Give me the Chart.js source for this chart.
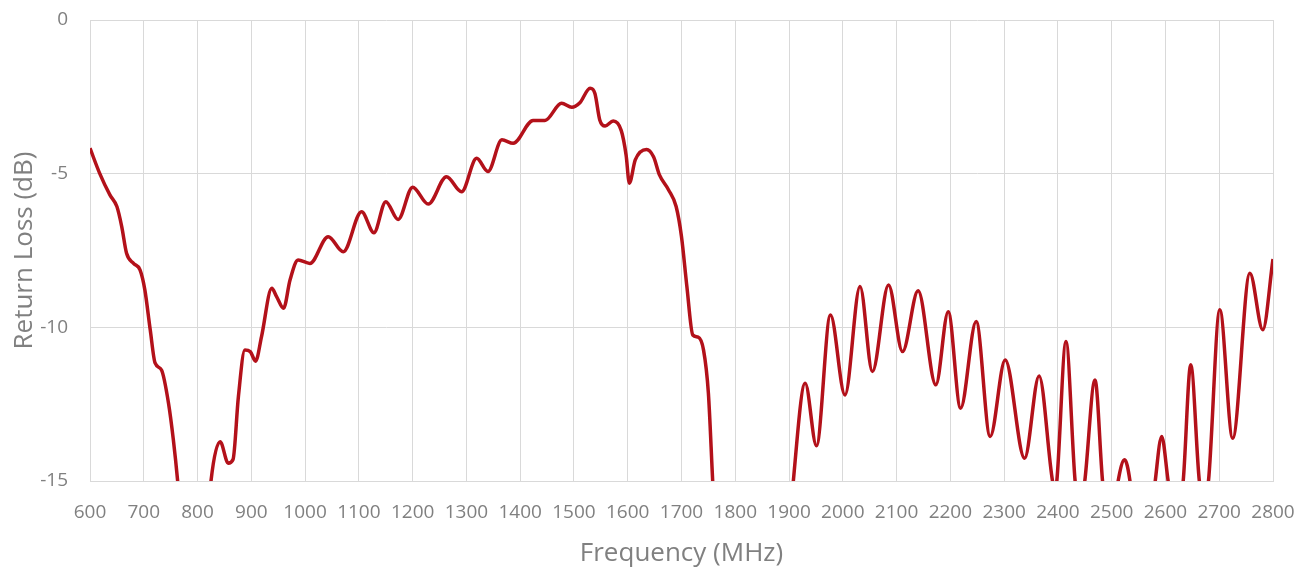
<!DOCTYPE html>
<html>
<head>
<meta charset="utf-8">
<script src="https://cdn.jsdelivr.net/npm/chart.js@4/dist/chart.umd.min.js"></script>
<style>
	html, body { margin: 0; padding: 0; background: #fff; }
	#wrap { width: 1312px; height: 576px; }
</style>
</head>
<body>
<div id="wrap"><canvas id="return-loss-chart"></canvas></div>
<script>
// frequency points (MHz)
const freqMHz = [
	600, 618, 637, 650, 659, 668, 681, 693, 702, 712, 721, 733, 746, 755, 763, 775, 795, 812,
	825, 842, 857, 866, 876, 888, 898, 908, 919, 938, 947, 960, 972, 987, 1009, 1043, 1071,
	1105, 1128, 1150, 1173, 1200, 1229, 1263, 1291, 1319, 1340, 1366, 1387, 1424, 1446, 1477,
	1496, 1511, 1530, 1539, 1548, 1558, 1573, 1588, 1597, 1603, 1614, 1635, 1648, 1659, 1676,
	1690, 1700, 1710, 1721, 1731, 1741, 1750, 1758, 1770, 1800, 1860, 1895, 1908, 1930, 1951,
	1977, 2004, 2032, 2055, 2085, 2111, 2140, 2173, 2196, 2219, 2248, 2274, 2302, 2338, 2365,
	2390, 2395, 2398, 2415, 2432, 2441, 2450, 2469, 2483, 2497, 2512, 2524, 2534, 2557, 2581,
	2593, 2605, 2619, 2633, 2647, 2663, 2671, 2680, 2701, 2725, 2757, 2781, 2800
]
// return loss (dB), values under -15 run off the bottom of the plot
const returnLossDb = [
	-4.17, -4.99, -5.69, -6.07, -6.72, -7.59, -7.92, -8.13, -8.78, -10.08, -11.16, -11.39, -12.47, -13.66, -15.0, -17.5, -20, -18,
	-15, -13.72, -14.42, -14.3, -12.25, -10.74, -10.79, -11.1, -10.3, -8.73, -9.0, -9.38, -8.46, -7.81, -7.92, -7.05, -7.54,
	-6.24, -6.92, -5.91, -6.49, -5.44, -5.99, -5.10, -5.59, -4.50, -4.93, -3.90, -4.01, -3.27, -3.27, -2.71,
	-2.84, -2.69, -2.22, -2.39, -3.25, -3.45, -3.29, -3.6, -4.4, -5.31, -4.55, -4.21, -4.45, -5.04, -5.53,
	-6.07, -7.05, -8.67, -10.25, -10.32, -10.74, -12.14, -15, -19, -23, -23, -18, -15, -11.82, -13.85,
	-9.6, -12.2, -8.67, -11.44, -8.62, -10.79, -8.81, -11.87, -9.49, -12.63, -9.81, -13.55, -11.06, -14.26, -11.58,
	-15, -15.3, -15, -10.46, -15, -16, -15, -11.71, -15, -17, -15, -14.31, -15, -19, -15,
	-13.55, -15, -16.5, -15, -11.22, -15, -15.7, -15, -9.43, -13.61, -8.24, -10.08, -7.78
]
const xTicks = { min: 600, max: 2800, step: 100 }
const yTicks = { min: -15, max: 0, step: 5 }

const textGrey = '#808080'
const gridGrey = '#D9D9D9'

const points = freqMHz.map((f, i) => ({ x: f, y: returnLossDb[i] }))

const ctx = document.getElementById('return-loss-chart').getContext('2d')
new Chart(ctx, {
	type: 'line',
	data: {
		datasets: [{
			label: 'Return Loss',
			data: points,
			borderColor: '#B3111A',
			borderWidth: 3.5,
			pointRadius: 0,
			cubicInterpolationMode: 'monotone',
			fill: false
		}]
	},
	options: {
		responsive: true,
		maintainAspectRatio: false,
		animation: false,
		layout: { padding: { left: 0, right: 39, top: 20, bottom: 0 } },
		plugins: {
			legend: { display: false },
			tooltip: { enabled: false }
		},
		scales: {
			x: {
				type: 'linear',
				min: xTicks.min,
				max: xTicks.max,
				afterFit: (scale) => { scale.height = 95 },
				// invisible tick marks give the gap under the axis (ticks.padding would also shrink the plot)
				grid: { color: gridGrey, lineWidth: 1, drawTicks: true, tickLength: 20, tickColor: 'rgba(0,0,0,0)' },
				border: { color: gridGrey },
				ticks: {
					stepSize: xTicks.step,
					padding: 0,
					maxRotation: 0,
					minRotation: 0,
					autoSkip: false,
					color: textGrey,
					font: { family: 'Open Sans', size: 19 },
					callback: (v) => String(v)
				},
				title: {
					display: true,
					text: 'Frequency (MHz)',
					color: textGrey,
					font: { family: 'Open Sans', size: 26 },
					padding: { top: 0, bottom: 7 }
				}
			},
			y: {
				min: yTicks.min,
				max: yTicks.max,
				afterFit: (scale) => { scale.width = 90 },
				grid: { color: gridGrey, lineWidth: 1, drawTicks: true, tickLength: 22, tickColor: 'rgba(0,0,0,0)' },
				border: { color: gridGrey },
				ticks: {
					stepSize: yTicks.step,
					padding: 0,
					color: textGrey,
					font: { family: 'Open Sans', size: 19 }
				},
				title: {
					display: true,
					text: 'Return Loss (dB)',
					color: textGrey,
					font: { family: 'Open Sans', size: 26 },
					padding: { top: 9, bottom: 0 }
				}
			}
		}
	}
})
</script>
</body>
</html>
